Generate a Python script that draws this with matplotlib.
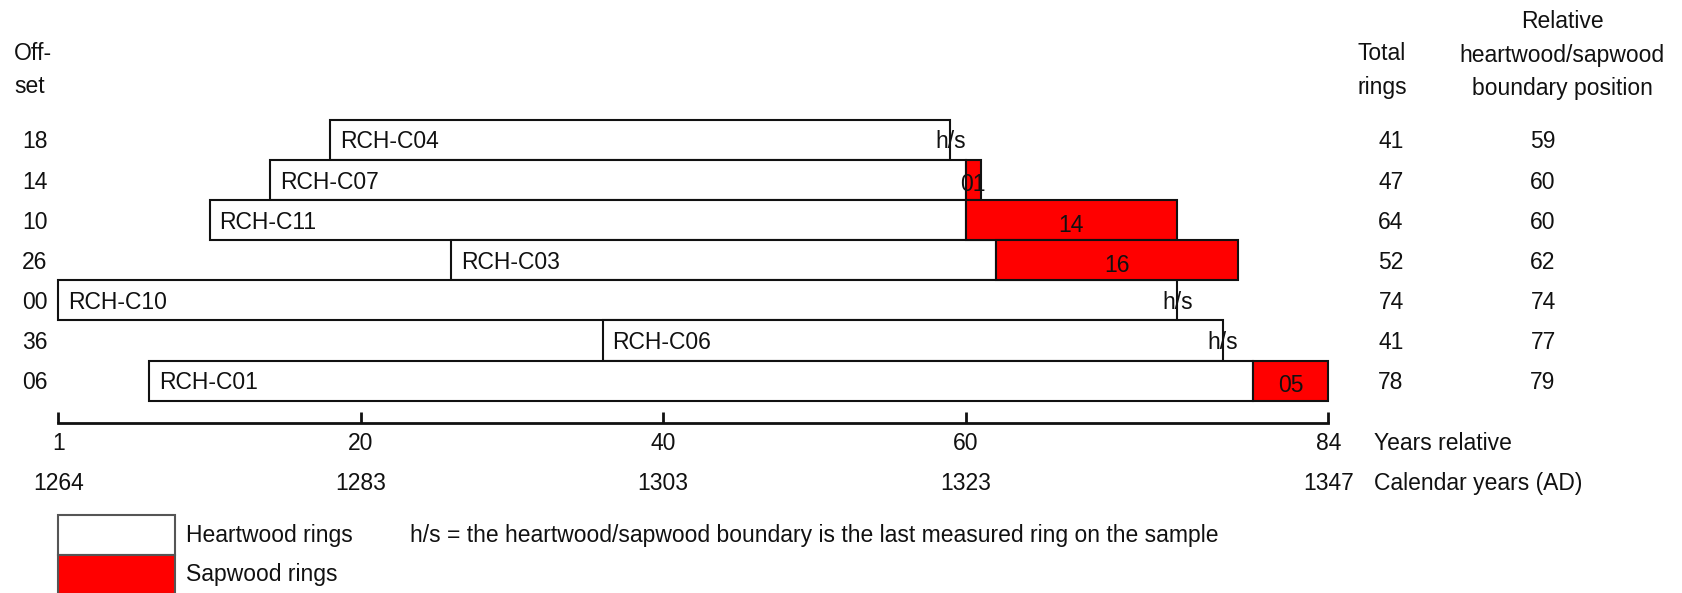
import matplotlib
matplotlib.use("Agg")
import matplotlib.pyplot as plt

# sample data (top to bottom)
samples = ["RCH-C04", "RCH-C07", "RCH-C11", "RCH-C03", "RCH-C10", "RCH-C06", "RCH-C01"]
offsets = [18, 14, 10, 26, 0, 36, 6]
total_rings = [41, 47, 64, 52, 74, 41, 78]
boundary = [59, 60, 60, 62, 74, 77, 79]
sapwood = [0, 1, 14, 16, 0, 0, 5]

tick_pos = [0, 20, 40, 60, 84]
tick_rel = ["1", "20", "40", "60", "84"]
tick_cal = ["1264", "1283", "1303", "1323", "1347"]

plt.rcParams['font.family'] = ['Liberation Sans', 'DejaVu Sans']
fs = 16.5
tc = '#111111'

fig = plt.figure(figsize=(16.83, 5.93), dpi=100)
ax = fig.add_axes([0, 0, 1, 1])
ax.set_xlim(-3.856, 107.45)
ax.set_ylim(11.297, -3.491)
ax.axis('off')


def px(x):
    return (x - 58.3) / 15.12


def py(y):
    return (y - 140) / 40.1


dy = 0.05  # small nudge so row text sits like the original
rows = list(range(len(samples)))
heart = [b - o for b, o in zip(boundary, offsets)]
ax.barh(rows, heart, left=offsets, height=1, color='white', edgecolor=tc, lw=1.5, zorder=2)
for i in rows:
    if sapwood[i] > 0:
        ax.barh(i, sapwood[i], left=boundary[i], height=1, color='red', edgecolor=tc, lw=1.5, zorder=3)
        ax.text(boundary[i] + sapwood[i] / 2, i + 0.12, "%02d" % sapwood[i], ha='center',
                va='center', fontsize=fs, color=tc, zorder=5)
    else:
        ax.text(boundary[i], i + dy, "h/s", ha='center', va='center', fontsize=fs, color=tc, zorder=5)
    ax.text(offsets[i] + 0.66, i + dy, samples[i], ha='left', va='center', fontsize=fs, color=tc, zorder=5)
    ax.text(px(35), i + dy, "%02d" % offsets[i], ha='center', va='center', fontsize=fs, color=tc)
    ax.text(px(1391), i + dy, str(total_rings[i]), ha='center', va='center', fontsize=fs, color=tc)
    ax.text(px(1543), i + dy, str(boundary[i]), ha='center', va='center', fontsize=fs, color=tc)

# headers
ax.text(px(14), py(54), "Off-", ha='left', va='center', fontsize=fs, color=tc)
ax.text(px(14), py(87), "set", ha='left', va='center', fontsize=fs, color=tc)
ax.text(px(1382), py(54), "Total", ha='center', va='center', fontsize=fs, color=tc)
ax.text(px(1382), py(88), "rings", ha='center', va='center', fontsize=fs, color=tc)
ax.text(px(1562), py(22), "Relative", ha='center', va='center', fontsize=fs, color=tc)
ax.text(px(1562), py(56), "heartwood/sapwood", ha='center', va='center', fontsize=fs, color=tc)
ax.text(px(1562), py(89), "boundary position", ha='center', va='center', fontsize=fs, color=tc)

# axis
ay = py(422.7)
ax.plot([tick_pos[0], tick_pos[-1]], [ay, ay], color=tc, lw=2, solid_capstyle='projecting')
ax.vlines(tick_pos, py(412), ay, color=tc, lw=2)
for p, r, c in zip(tick_pos, tick_rel, tick_cal):
    ax.text(p, py(444), r, ha='center', va='center', fontsize=fs, color=tc)
    ax.text(p, py(484), c, ha='center', va='center', fontsize=fs, color=tc)
ax.text(px(1374), py(444), "Years relative", ha='left', va='center', fontsize=fs, color=tc)
ax.text(px(1374), py(484), "Calendar years (AD)", ha='left', va='center', fontsize=fs, color=tc)

# legend
ax.bar(0, py(555) - py(515), width=px(176) - px(59), bottom=py(515), align='edge',
       color='white', edgecolor='#555555', lw=1.5)
ax.bar(0, py(594) - py(555), width=px(176) - px(59), bottom=py(555), align='edge',
       color='red', edgecolor='#555555', lw=1.5)
ax.text(px(186), py(536), "Heartwood rings", ha='left', va='center', fontsize=fs, color=tc)
ax.text(px(186), py(575), "Sapwood rings", ha='left', va='center', fontsize=fs, color=tc)
ax.text(px(410), py(536), "h/s = the heartwood/sapwood boundary is the last measured ring on the sample",
        ha='left', va='center', fontsize=fs, color=tc)

fig.savefig("out.png", dpi=100)
